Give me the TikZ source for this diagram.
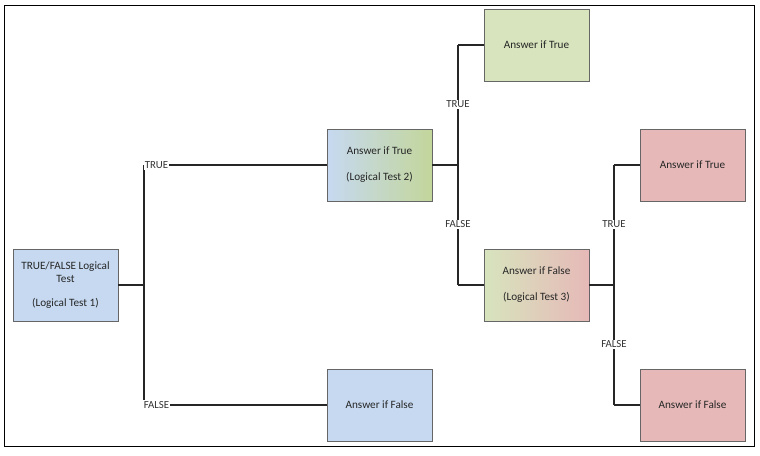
\documentclass[tikz,border=0pt]{standalone}
\usepackage{fontspec}
\setmainfont{Carlito}
\usetikzlibrary{shadows}
\definecolor{tblue}{HTML}{C6D9F1}
\definecolor{tgreen}{HTML}{D7E4BD}
\definecolor{tgreenB}{HTML}{C3D69B}
\definecolor{tred}{HTML}{E6B9B8}
\begin{document}
\begin{tikzpicture}[x=1pt,y=-1pt,
  box/.style={draw=black!60, line width=0.9pt, minimum width=105pt, minimum height=72pt,
    align=center, font=\fontsize{11.2}{13}\selectfont, text=black!85,
    drop shadow={shadow xshift=1.2pt, shadow yshift=-1.2pt, fill=black!45, opacity=1}},
  conn/.style={line width=1.1pt, draw=black!85},
  lbl/.style={fill=white, inner sep=1pt, font=\fontsize{10.8}{12}\selectfont, text=black!80}]
\useasboundingbox (0,0) rectangle (760,455);
\draw[line width=1pt] (4,5) rectangle (754.5,446.5);

% boxes
\node[box, fill=tblue] (t1) at (65.5,285) {TRUE/FALSE Logical\\Test\\[11pt](Logical Test 1)};
\node[box, left color=tblue, right color=tgreenB] (t2) at (379.5,165) {Answer if True\\[13pt](Logical Test 2)};
\node[box, fill=tblue] (f1) at (379.5,405) {Answer if False};
\node[box, fill=tgreen] (t3) at (536.5,45) {Answer if True};
\node[box, left color=tgreen, right color=tred] (f2) at (536.5,285) {Answer if False\\[13pt](Logical Test 3)};
\node[box, fill=tred] (t4) at (692.5,165) {Answer if True};
\node[box, fill=tred] (f3) at (692.5,405) {Answer if False};

% first split
\coordinate (j1) at (144,285);
\coordinate (j1t) at (144,165);
\coordinate (j1f) at (144,405);
\draw[conn] (t1.east) -- (j1);
\draw[conn] (j1t) -- (j1f);
\draw[conn] (j1t) -- (t2.west);
\draw[conn] (j1f) -- (f1.west);
\node[lbl] (l1t) at (156.5,165) {TRUE};
\node[lbl] (l1f) at (156.5,405) {FALSE};

% second split
\coordinate (j2) at (458,165);
\coordinate (j2t) at (458,45);
\coordinate (j2f) at (458,285);
\draw[conn] (t2.east) -- (j2);
\draw[conn] (j2t) -- (j2f);
\draw[conn] (j2t) -- (t3.west);
\draw[conn] (j2f) -- (f2.west);
\node[lbl] (l2t) at (458,104.5) {TRUE};
\node[lbl] (l2f) at (458,224.5) {FALSE};

% third split
\coordinate (j3) at (614,285);
\coordinate (j3t) at (614,165);
\coordinate (j3f) at (614,405);
\draw[conn] (f2.east) -- (j3);
\draw[conn] (j3t) -- (j3f);
\draw[conn] (j3t) -- (t4.west);
\draw[conn] (j3f) -- (f3.west);
\node[lbl] (l3t) at (614,224.5) {TRUE};
\node[lbl] (l3f) at (614,344.5) {FALSE};
\end{tikzpicture}
\end{document}
